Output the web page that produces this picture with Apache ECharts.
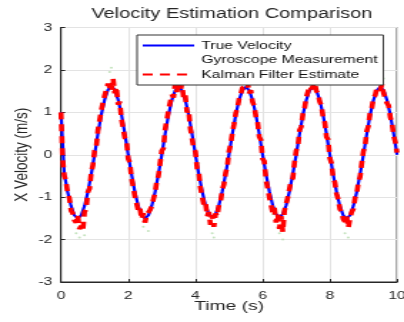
<!DOCTYPE html>
<html>
<head>
<meta charset="utf-8">
<script src="https://cdn.jsdelivr.net/npm/echarts@6/dist/echarts.min.js"></script>
<style>
html,body{margin:0;padding:0;overflow:hidden;background:#fff;}
/* the original figure is stretched sideways, so draw narrow and scale */
#chart{width:283px;height:322px;transform:scaleX(1.4276);transform-origin:0 0;}
</style>
</head>
<body>
<div id="chart"></div>
<script>
// sample steps (s)
const trueStep = 0.1
const kalmanStep = 0.05

// true velocity, one value every 0.1 s from 0 to 10
const trueVelocity = [
  1.0, -0.46, -0.88, -1.21, -1.43, -1.5, -1.43, -1.21, -0.88, -0.46,
  0, 0.5, 0.95, 1.3, 1.53, 1.62, 1.53, 1.3, 0.95, 0.5,
  0, -0.46, -0.88, -1.21, -1.43, -1.5, -1.43, -1.21, -0.88, -0.46,
  0, 0.49, 0.94, 1.29, 1.52, 1.6, 1.52, 1.29, 0.94, 0.49,
  0, -0.45, -0.86, -1.19, -1.4, -1.47, -1.4, -1.19, -0.86, -0.45,
  0, 0.49, 0.94, 1.29, 1.52, 1.6, 1.52, 1.29, 0.94, 0.49,
  0, -0.45, -0.86, -1.19, -1.4, -1.47, -1.4, -1.19, -0.86, -0.45,
  0, 0.49, 0.94, 1.29, 1.52, 1.6, 1.52, 1.29, 0.94, 0.49,
  0, -0.46, -0.88, -1.21, -1.43, -1.5, -1.43, -1.21, -0.88, -0.46,
  0, 0.49, 0.94, 1.29, 1.52, 1.6, 1.52, 1.29, 0.94, 0.49,
  0
]

// kalman filter estimate, one value every 0.05 s
const kalmanEstimate = [
  1.0, -0.1, -0.5, -0.62, -0.92, -1.02, -1.32, -1.38, -1.55, -1.6, -1.42, -1.75, -1.68, -1.8, -1.35, -1.28, -0.88, -0.8, -0.42, -0.25,
  0.1, 0.18, 0.58, 0.62, 1.05, 1.02, 1.4, 1.42, 1.68, 1.72, 1.5, 1.8, 1.45, 1.6, 1.18, 1.25, 0.85, 0.82, 0.4, 0.35,
  -0.1, -0.18, -0.55, -0.58, -0.98, -1.0, -1.32, -1.25, -1.52, -1.38, -1.6, -1.42, -1.45, -1.3, -1.22, -1.05, -0.9, -0.62, -0.5, -0.2,
  0.1, 0.15, 0.6, 0.62, 1.05, 1.02, 1.42, 1.35, 1.68, 1.48, 1.72, 1.5, 1.68, 1.32, 1.4, 1.0, 1.05, 0.62, 0.58, 0.15,
  0.08, -0.32, -0.4, -0.78, -0.8, -1.18, -1.12, -1.45, -1.35, -1.65, -1.42, -1.7, -1.38, -1.45, -1.18, -1.1, -0.82, -0.7, -0.42, -0.28,
  0.08, 0.25, 0.52, 0.72, 0.98, 1.1, 1.32, 1.42, 1.58, 1.55, 1.62, 1.72, 1.45, 1.52, 1.25, 1.15, 0.9, 0.78, 0.42, 0.35,
  -0.1, -0.15, -0.58, -0.6, -1.0, -0.98, -1.36, -1.25, -1.6, -1.4, -1.75, -1.45, -1.82, -1.32, -1.35, -1.0, -0.98, -0.6, -0.55, -0.18,
  0.1, 0.18, 0.58, 0.66, 0.98, 1.1, 1.36, 1.4, 1.62, 1.55, 1.55, 1.7, 1.5, 1.45, 1.25, 1.16, 0.88, 0.76, 0.42, 0.36,
  -0.08, -0.2, -0.55, -0.65, -0.92, -1.05, -1.28, -1.35, -1.52, -1.58, -1.45, -1.72, -1.5, -1.35, -1.28, -1.02, -0.92, -0.65, -0.52, -0.2,
  0.08, 0.22, 0.56, 0.68, 1.02, 1.1, 1.35, 1.4, 1.58, 1.62, 1.52, 1.66, 1.45, 1.48, 1.22, 1.16, 0.88, 0.76, 0.44, 0.3,
  0.05
]

// the few gyroscope dots that show outside the red band
const gyroTime = [0.3, 0.45, 0.55, 0.7, 1.2, 1.45, 1.5, 1.9, 2.45, 2.6, 3.1, 3.5, 3.55, 4.1, 4.5, 4.55, 5.2, 5.55, 5.6, 6.3, 6.5, 6.6, 7.45, 7.5, 8.2, 8.45, 8.55, 9.3, 9.5, 9.6]
const gyroValue = [-1.1, -1.85, -1.95, -1.9, 1.2, 1.95, 2.05, 0.6, -1.7, -1.8, 0.3, 1.9, 1.8, -0.2, -1.85, -1.95, 0.8, 1.9, 1.75, -1.4, -1.85, -2.0, 1.85, 1.75, -0.8, -1.85, -1.95, 1.4, 1.95, 1.8]

// tick labels
const xTicks = [0, 2, 4, 6, 8, 10]
const yTicks = [-3, -2, -1, 0, 1, 2, 3]

let trueData = trueVelocity.map((v, i) => [+(i * trueStep).toFixed(2), v])
let kalmanData = kalmanEstimate.map((v, i) => [+(i * kalmanStep).toFixed(2), v])
let gyroData = gyroTime.map((t, i) => [t, gyroValue[i]])

let myChart = echarts.init(document.getElementById('chart'))
let axisText = { color: '#262626', fontSize: 11, fontFamily: 'Liberation Sans' }
let option = {
  animation: false,
  backgroundColor: '#fff',
  textStyle: { fontFamily: 'Liberation Sans' },
  title: {
    text: 'Velocity Estimation Comparison',
    left: 64,
    top: 7,
    padding: 0,
    textStyle: { fontSize: 14, fontWeight: 'normal', color: '#262626', fontFamily: 'Liberation Sans' }
  },
  legend: {
    orient: 'vertical',
    left: 96,
    top: 35,
    padding: [5, 4, 5, 3],
    itemWidth: 36,
    itemHeight: 12,
    itemGap: 3,
    backgroundColor: '#fff',
    borderColor: '#333',
    borderWidth: 1,
    borderRadius: 0,
    textStyle: { fontSize: 11, color: '#111', fontFamily: 'Liberation Sans' },
    // only the line is shown in the legend, no marker
    itemStyle: { opacity: 0 },
    data: [
      { name: 'True Velocity' },
      { name: 'Gyroscope Measurement' },
      { name: 'Kalman Filter Estimate' }
    ]
  },
  grid: {
    left: 42.7,
    right: 4.9,
    top: 27.5,
    bottom: 40,
    outerBoundsMode: 'none',
    show: true,
    borderColor: '#262626',
    borderWidth: 1
  },
  xAxis: {
    type: 'value',
    min: xTicks[0],
    max: xTicks[xTicks.length - 1],
    interval: 2,
    name: 'Time (s)',
    nameLocation: 'middle',
    nameGap: 17,
    nameMoveOverlap: false,
    nameTextStyle: { fontSize: 13.5, color: '#262626', fontFamily: 'Liberation Sans' },
    axisLine: { onZero: false, lineStyle: { color: '#262626' } },
    axisTick: { inside: true, length: 3, lineStyle: { color: '#262626' } },
    axisLabel: Object.assign({ margin: 8 }, axisText),
    splitLine: { lineStyle: { color: '#e3e3e3' } }
  },
  yAxis: {
    type: 'value',
    min: yTicks[0],
    max: yTicks[yTicks.length - 1],
    interval: 1,
    name: 'X Velocity (m/s)',
    nameLocation: 'middle',
    nameGap: 20,
    nameMoveOverlap: false,
    nameTextStyle: { fontSize: 13.5, color: '#262626', fontFamily: 'Liberation Sans' },
    axisLine: { show: true, onZero: false, lineStyle: { color: '#262626' } },
    axisTick: { show: true, inside: true, length: 3, lineStyle: { color: '#262626' } },
    axisLabel: Object.assign({ margin: 6 }, axisText),
    splitLine: { lineStyle: { color: '#e3e3e3' } }
  },
  series: [
    {
      name: 'True Velocity',
      type: 'line',
      data: trueData,
      symbol: 'none',
      z: 2,
      lineStyle: { color: '#0000ff', width: 2.2 },
      itemStyle: { color: '#0000ff' }
    },
    {
      name: 'Gyroscope Measurement',
      type: 'scatter',
      data: gyroData,
      symbolSize: 2,
      z: 1,
      itemStyle: { color: '#b5dcae' }
    },
    {
      name: 'Kalman Filter Estimate',
      type: 'line',
      data: kalmanData,
      symbol: 'none',
      z: 3,
      lineStyle: { color: '#ff0000', width: 3.6, type: [7, 5] },
      itemStyle: { color: '#ff0000' }
    }
  ]
}
myChart.setOption(option)
</script>
</body>
</html>
